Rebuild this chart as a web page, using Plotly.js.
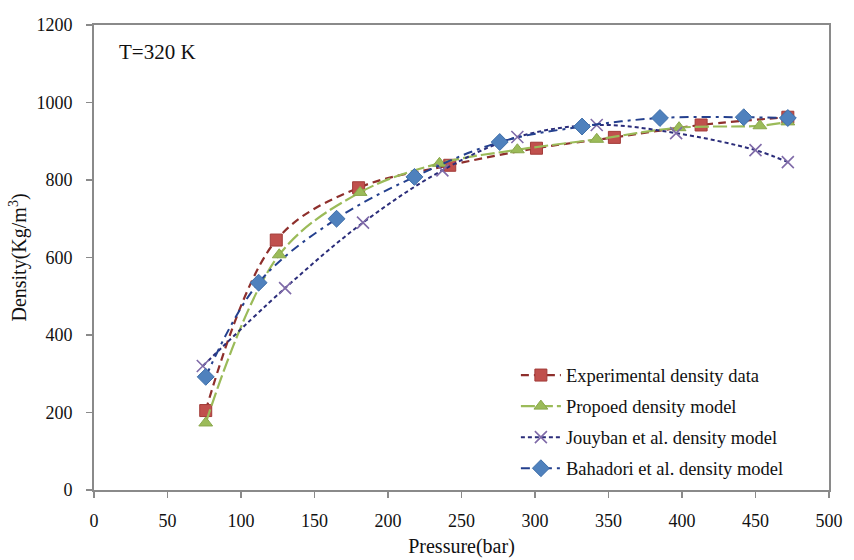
<!DOCTYPE html>
<html>
<head>
<meta charset="utf-8">
<script src="https://cdn.plot.ly/plotly-3.0.1.min.js"></script>
<style>html,body{margin:0;padding:0;background:#fff;}#chart{width:854px;height:560px;}</style>
</head>
<body>
<div id="chart"></div>
<script>
// Data
const expPressure = [76, 124, 180, 242, 301, 354, 413, 472];
const expDensity  = [205, 645, 780, 838, 882, 910, 942, 962];

const propPressure = [76, 126, 181, 235, 288, 342, 398, 453, 472];
const propDensity  = [173, 607, 768, 843, 878, 905, 935, 940, 950];

const jouPressure = [74, 130, 183, 237, 288, 342, 396, 450, 472];
const jouDensity  = [320, 521, 690, 825, 911, 942, 921, 877, 846];

const bahPressure = [76, 112, 165, 218, 276, 332, 385, 442, 472];
const bahDensity  = [292, 535, 700, 808, 898, 938, 960, 962, 960];

const seriesNames = [
  "Experimental density data",
  "Propoed density model",
  "Jouyban et al. density model",
  "Bahadori et al. density model"
];
const xTicks = [0, 50, 100, 150, 200, 250, 300, 350, 400, 450, 500];
const yTicks = [0, 200, 400, 600, 800, 1000, 1200];

const fontFam = "Liberation Serif, Times New Roman, serif";

const traces = [
  {
    x: expPressure, y: expDensity, name: seriesNames[0], legendgroup: "a", type: "scatter", mode: "lines+markers",
    line: {shape: "spline", color: "#8E2F2C", width: 2.2, dash: "8px,5px"},
    marker: {symbol: "square", size: 12, color: "#C0504D", line: {color: "#A23B38", width: 1}}
  },
  {
    x: propPressure, y: propDensity, name: seriesNames[1], legendgroup: "b", type: "scatter", mode: "lines+markers",
    line: {shape: "spline", color: "#9BBB59", width: 2.2, dash: "14px,4px"},
    marker: {symbol: "triangle-up", size: 12, color: "#9BBB59", line: {color: "#8AA84C", width: 1}}
  },
  {
    x: jouPressure, y: jouDensity, name: seriesNames[2], legendgroup: "c", type: "scatter", mode: "lines+markers",
    line: {shape: "spline", color: "#2B2D7A", width: 2, dash: "4px,3px"},
    marker: {symbol: "x-thin", size: 12, color: "#7F6AA8", line: {color: "#7F6AA8", width: 1.6}}
  },
  {
    x: bahPressure, y: bahDensity, name: seriesNames[3], legendgroup: "d", type: "scatter", mode: "lines+markers",
    line: {shape: "spline", color: "#24408E", width: 2, dash: "9px,5px,3px,5px"},
    marker: {symbol: "diamond", size: 13, color: "#4F81BD", line: {color: "#3F6FAA", width: 1}}
  }
];

const axisCommon = {
  showgrid: false, zeroline: false, showline: true, mirror: true,
  linecolor: "#8a8a8a", linewidth: 2, ticks: "outside", ticklen: 6,
  tickcolor: "#8a8a8a", tickwidth: 1.5,
  tickfont: {family: fontFam, size: 18, color: "#111"}
};

const layout = {
  width: 854, height: 560,
  margin: {l: 94, r: 25, t: 25, b: 70},
  paper_bgcolor: "#fff", plot_bgcolor: "#fff",
  font: {family: fontFam, color: "#111"},
  showlegend: true,
  legend: {
    x: 0.574, y: 0.287, xanchor: "left", yanchor: "top",
    bgcolor: "rgba(255,255,255,0)", borderwidth: 0,
    font: {family: fontFam, size: 18.5, color: "#111"},
    itemwidth: 40, tracegroupgap: 4
  },
  xaxis: Object.assign({}, axisCommon, {
    range: [0, 500], tickmode: "array", tickvals: xTicks, ticktext: xTicks.map(String),
    ticklabelstandoff: 7,
    title: {text: "Pressure(bar)", font: {family: fontFam, size: 20, color: "#111"}, standoff: 9}
  }),
  yaxis: Object.assign({}, axisCommon, {
    range: [0, 1200], tickmode: "array", tickvals: yTicks, ticktext: yTicks.map(String),
    ticklabelstandoff: 10,
    title: {text: "Density(Kg/m<sup>3</sup>)", font: {family: fontFam, size: 20, color: "#111"}, standoff: 4}
  }),
  annotations: [{
    text: "T=320 K", xref: "paper", yref: "paper", x: 0.031, y: 0.942,
    xanchor: "left", yanchor: "middle", showarrow: false,
    font: {family: fontFam, size: 21, color: "#111"}
  }]
};

Plotly.newPlot("chart", traces, layout, {displayModeBar: false, staticPlot: true});
</script>
</body>
</html>
